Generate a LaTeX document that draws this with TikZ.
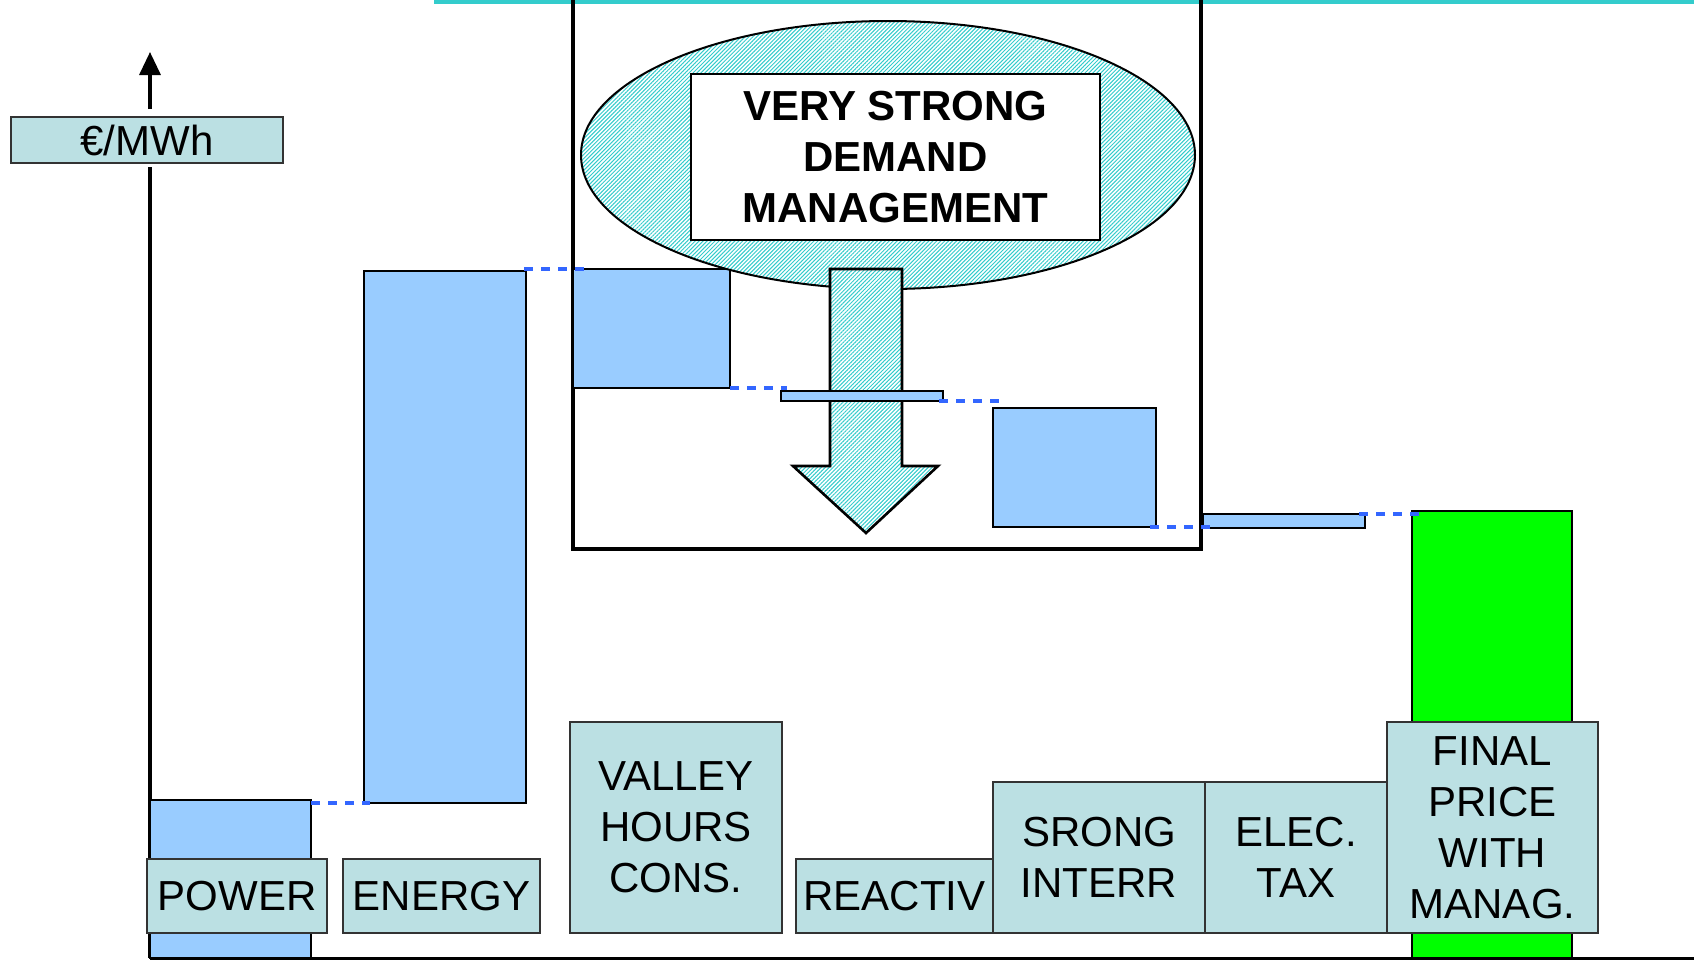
\documentclass[tikz,border=0pt]{standalone}
\usepackage{fontspec}
\setmainfont{Liberation Sans}
\usetikzlibrary{arrows.meta,patterns.meta,calc,shapes.geometric}
\definecolor{barblue}{HTML}{99CCFF}
\definecolor{labfill}{HTML}{BBE0E3}
\definecolor{tealc}{HTML}{33CCCC}
\definecolor{dashblue}{HTML}{3366FF}
\definecolor{fgreen}{HTML}{00FF00}
\definecolor{labline}{HTML}{333333}
\begin{document}
\begin{tikzpicture}[x=0.5pt,y=-0.5pt,
  sz/.style 2 args={minimum width=#1*0.5pt,minimum height=#2*0.5pt},
  bar/.style={draw=black,line width=1.3pt,fill=barblue,anchor=north west,inner sep=0pt,outer sep=0pt},
  lab/.style={draw=labline,line width=1pt,fill=labfill,anchor=north west,inner sep=0pt,outer sep=0pt,align=center,font=\fontsize{21}{25.5}\selectfont},
  dashline/.style={draw=dashblue,line width=1.7pt,dash pattern=on 4.5pt off 4pt},
  hatch/.style={preaction={fill=white},pattern={Lines[angle=45,distance=1.4pt,line width=0.5pt]},pattern color=tealc}]
\useasboundingbox (0,0) rectangle (1694,960);
% top teal line
\fill[tealc] (434,0) rectangle (1694,4);
% axis
\coordinate (axb) at (150,958);
\coordinate (axm1) at (150,167);
\coordinate (axm2) at (150,109);
\coordinate (axt) at (150,52);
\coordinate (bend) at (1694,958);
\draw[line width=1.7pt] (axb) -- (axm1);
\draw[line width=1.7pt,-{Triangle[length=11.5pt,width=10.5pt]}] (axm2) -- (axt);
\draw[line width=1.5pt] (axb) -- (bend);
% frame
\draw[line width=2pt] (573,-20) -- (573,549) -- (1201,549) -- (1201,-20);
% valley bar (under ellipse)
\node[bar,sz={157}{119}] (valley) at (573,269) {};
% ellipse
\node[ellipse,draw=black,line width=1pt,hatch,inner sep=0pt,minimum width=307pt,minimum height=134pt] (ell) at (888,155) {};
\node[draw=black,fill=white,line width=1pt,inner sep=0pt,sz={409}{166},align=center,font=\bfseries\fontsize{21}{25.5}\selectfont] (title) at (895.5,157) {VERY STRONG\\DEMAND\\MANAGEMENT};
% down arrow
\draw[line width=1.3pt,hatch] (830,269) -- (902,269) -- (902,466) -- (938,466) -- (866,533) -- (793,466) -- (830,466) -- cycle;
% bars
\node[bar,sz={161}{158}] (power) at (150,800) {};
\node[bar,sz={162}{532}] (energy) at (364,271) {};
\node[bar,sz={162}{10}] (react) at (781,391) {};
\node[bar,sz={163}{119}] (srong) at (993,408) {};
\node[bar,sz={162}{14}] (elec) at (1203,514) {};
\node[bar,fill=fgreen,sz={160}{447}] (final) at (1412,511) {};
% dashed connectors
\draw[dashline] (energy.south west -| power.east) -- ([xshift=3pt]energy.south west);
\draw[dashline] ([xshift=-1pt]valley.north west -| energy.east) -- ([xshift=8pt]valley.north west);
\draw[dashline] (valley.south east) -- ([xshift=3pt]valley.south east -| react.west);
\draw[dashline] ([xshift=-2pt]react.south east) -- ([xshift=4pt]react.south east -| srong.west);
\draw[dashline] ([xshift=-3pt]srong.south east) -- ([xshift=4pt]srong.south east -| elec.west);
\draw[dashline] ([xshift=-3pt]elec.north east) -- ([xshift=4pt]elec.north east -| final.west);
% labels
\node[lab,sz={272}{46}] (unit) at (11,117) {€/MWh};
\node[lab,sz={180}{74}] (lpower) at (147,859) {POWER};
\node[lab,sz={197}{74}] (lenergy) at (343,859) {ENERGY};
\node[lab,sz={212}{211}] (lvalley) at (570,722) {VALLEY\\HOURS\\CONS.};
\node[lab,sz={197}{74}] (lreact) at (796,859) {REACTIV};
\node[lab,sz={212}{151}] (lsrong) at (993,782) {SRONG\\INTERR};
\node[lab,sz={182}{151}] (lelec) at (1205,782) {ELEC.\\TAX};
\node[lab,sz={211}{211}] (lfinal) at (1387,722) {FINAL\\PRICE\\WITH\\MANAG.};
\end{tikzpicture}
\end{document}
